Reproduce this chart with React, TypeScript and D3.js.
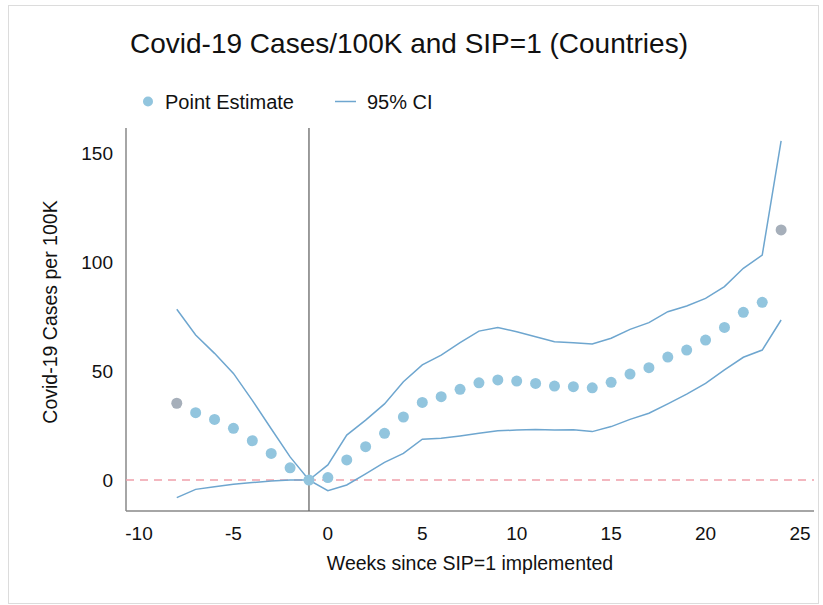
import { useEffect, useRef } from "react";
import * as d3 from "d3";

// weeks relative to SIP=1 (event time)
const weeks = d3.range(-8, 25);

const pointEstimate = [
  35.2, 30.9, 27.8, 23.7, 18.0, 12.2, 5.6, 0,
  1.1, 9.2, 15.3, 21.4, 28.9, 35.6, 38.2, 41.6, 44.6, 45.9, 45.4, 44.3, 43.1,
  42.8, 42.3, 44.8, 48.6, 51.5, 56.4, 59.6, 64.2, 70.0, 76.9, 81.5, 114.7,
];

const ciUpper = [
  78.3, 66.5, 58.1, 48.9, 36.5, 23.5, 10.6, 0,
  6.9, 20.6, 27.5, 34.9, 45.1, 52.8, 57.3, 63.0, 68.3, 69.9, 68.0, 65.7, 63.4,
  63.0, 62.4, 65.0, 69.1, 72.2, 77.2, 79.8, 83.3, 88.7, 97.1, 103.2, 155.6,
];

const ciLower = [
  -8.1, -4.3, -3.1, -2.0, -1.2, -0.5, 0, 0,
  -4.9, -2.3, 2.8, 8.1, 12.2, 18.7, 19.1, 20.2, 21.4, 22.6, 22.9, 23.2, 22.9,
  23.0, 22.2, 24.5, 27.8, 30.6, 34.9, 39.4, 44.3, 50.5, 56.3, 59.6, 73.4,
];

// binned endpoints are drawn in gray
const binnedWeeks = [-8, 24];
const referenceWeek = -1;

const xTicks = [-10, -5, 0, 5, 10, 15, 20, 25];
const yTicks = [0, 50, 100, 150];

const W = 823;
const H = 605;
const FONT = "'Liberation Sans', Arial, Helvetica, sans-serif";

export default function App() {
  const ref = useRef<SVGSVGElement | null>(null);

  useEffect(() => {
    const svg = d3.select(ref.current);
    svg.selectAll("*").remove();

    const left = 126;
    const right = 814;
    const top = 128;
    const bottom = 511;

    const x = d3.scaleLinear().domain([-10, 25]).range([139, 800]);
    const y = d3.scaleLinear().domain([0, 150]).range([480, 153]);

    svg
      .append("rect")
      .attr("x", 8.5)
      .attr("y", 5.5)
      .attr("width", 810)
      .attr("height", 598)
      .attr("fill", "#fff")
      .attr("stroke", "#dcdcdc");

    // title
    svg
      .append("text")
      .attr("x", 409)
      .attr("y", 53)
      .attr("text-anchor", "middle")
      .attr("font-family", FONT)
      .attr("font-size", 28)
      .attr("fill", "#111")
      .text("Covid-19 Cases/100K and SIP=1 (Countries)");

    // legend
    const lg = svg.append("g").attr("font-family", FONT).attr("font-size", 20).attr("fill", "#111");
    lg.append("circle").attr("cx", 148).attr("cy", 101.5).attr("r", 5).attr("fill", "#92c5de");
    lg.append("text").attr("x", 165).attr("y", 108.5).text("Point Estimate");
    lg.append("line")
      .attr("x1", 335).attr("x2", 356).attr("y1", 101.5).attr("y2", 101.5)
      .attr("stroke", "#6ea6cf").attr("stroke-width", 1.5);
    lg.append("text").attr("x", 367).attr("y", 108.5).text("95% CI");

    // axes lines
    svg.append("line")
      .attr("x1", left).attr("x2", left).attr("y1", top).attr("y2", bottom)
      .attr("stroke", "#888").attr("stroke-width", 1.5);
    svg.append("line")
      .attr("x1", left).attr("x2", right).attr("y1", bottom).attr("y2", bottom)
      .attr("stroke", "#888").attr("stroke-width", 1.5);

    // reference week vertical line
    svg.append("line")
      .attr("x1", x(referenceWeek)).attr("x2", x(referenceWeek))
      .attr("y1", top).attr("y2", bottom)
      .attr("stroke", "#666").attr("stroke-width", 1.3);

    // zero line
    svg.append("line")
      .attr("x1", left).attr("x2", right).attr("y1", y(0)).attr("y2", y(0))
      .attr("stroke", "#f0a0aa").attr("stroke-width", 1.6)
      .attr("stroke-dasharray", "8,6");

    // tick labels
    svg.append("g")
      .selectAll("text")
      .data(xTicks)
      .join("text")
      .attr("x", (d) => x(d))
      .attr("y", 540)
      .attr("text-anchor", "middle")
      .attr("font-family", FONT)
      .attr("font-size", 19)
      .attr("fill", "#111")
      .text((d) => d);

    svg.append("g")
      .selectAll("text")
      .data(yTicks)
      .join("text")
      .attr("x", 113)
      .attr("y", (d) => y(d) + 7)
      .attr("text-anchor", "end")
      .attr("font-family", FONT)
      .attr("font-size", 19)
      .attr("fill", "#111")
      .text((d) => d);

    // axis titles
    svg.append("text")
      .attr("x", 470)
      .attr("y", 570)
      .attr("text-anchor", "middle")
      .attr("font-family", FONT)
      .attr("font-size", 19.5)
      .attr("fill", "#111")
      .text("Weeks since SIP=1 implemented");

    svg.append("text")
      .attr("transform", `translate(57,312) rotate(-90)`)
      .attr("text-anchor", "middle")
      .attr("font-family", FONT)
      .attr("font-size", 19.5)
      .attr("fill", "#111")
      .text("Covid-19 Cases per 100K");

    // CI lines
    const line = d3
      .line<number>()
      .x((_, i) => x(weeks[i]))
      .y((d) => y(d));

    [ciUpper, ciLower].forEach((s) => {
      svg.append("path")
        .attr("d", line(s) as string)
        .attr("fill", "none")
        .attr("stroke", "#6ea6cf")
        .attr("stroke-width", 1.5);
    });

    // point estimates
    svg.append("g")
      .selectAll("circle")
      .data(pointEstimate)
      .join("circle")
      .attr("cx", (_, i) => x(weeks[i]))
      .attr("cy", (d) => y(d))
      .attr("r", 5.5)
      .attr("fill", (_, i) => (binnedWeeks.includes(weeks[i]) ? "#a6afba" : "#92c5de"));
  }, []);

  return (
    <svg
      ref={ref}
      width={W}
      height={H}
      style={{ position: "absolute", left: 0, top: 0, background: "#fff" }}
    />
  );
}
